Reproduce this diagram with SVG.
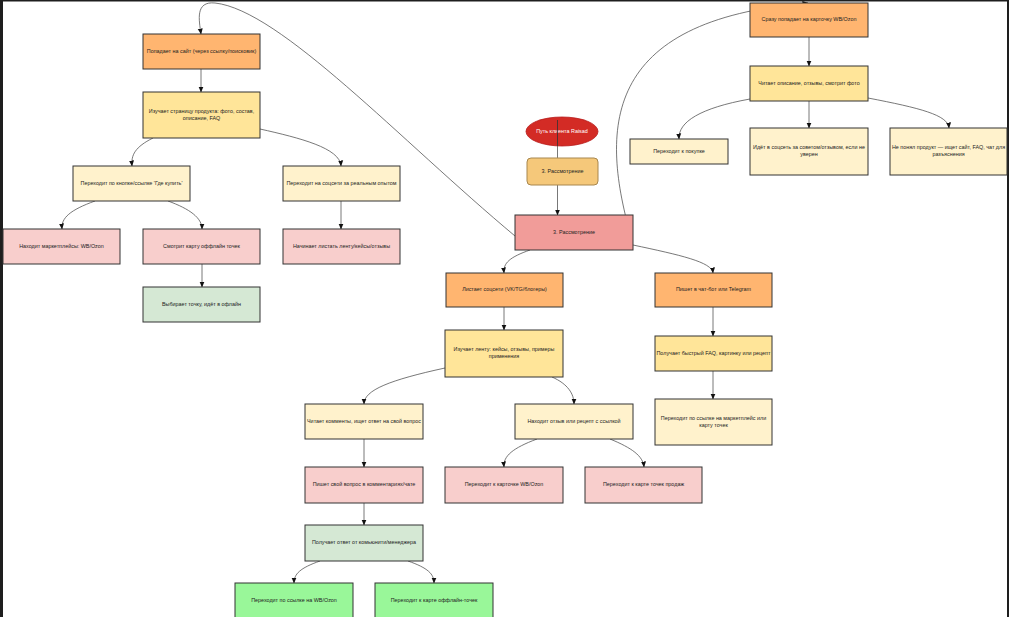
<svg xmlns="http://www.w3.org/2000/svg" width="1009" height="617" viewBox="0 0 1009 617">
<style>
  .n rect { stroke:#333; stroke-width:1; }
  .n text { font-family:"Liberation Sans", Arial, sans-serif; font-size:5.4px; fill:#222; text-anchor:middle; dominant-baseline:middle; }
  .or { fill:#FFB570; }
  .ye { fill:#FFE599; }
  .lt { fill:#FFF2CC; }
  .pk { fill:#F8CECC; }
  .gr { fill:#D5E8D4; }
  .bg { fill:#99F799; }
  .rd { fill:#F19C99; }
  .e path, .e line { fill:none; stroke:#555; stroke-width:0.8; }
  .e .a { marker-end:url(#arr); }
</style>
<defs>
  <marker id="arr" viewBox="0 0 6 6" refX="5.5" refY="3" markerWidth="6" markerHeight="6" markerUnits="userSpaceOnUse" orient="auto">
    <path d="M0,0.5 L6,3 L0,5.5 Z" fill="#111"/>
  </marker>
</defs>
<rect x="0" y="0" width="1009" height="617" fill="#fff"/>
<rect x="0" y="0" width="3" height="617" fill="#1e1e1e"/>
<rect x="0" y="0" width="1009" height="1.5" fill="#1e1e1e"/>
<rect x="1007" y="0" width="2" height="617" fill="#1e1e1e"/>

<g id="connectors" class="e">
  <path class="a" d="M515 236 C400 140, 280 10, 215 3 C195 1, 199 20, 201 34"/>
  <path class="a" d="M632 240 C600 130, 600 20, 808 3"/>
  <line class="a" x1="201" y1="69" x2="201" y2="92"/>
  <path class="a" d="M153 138 C135 147, 131 155, 132 166"/>
  <path class="a" d="M260 129 C300 138, 340 148, 341 166"/>
  <path class="a" d="M95 201 C70 210, 61 218, 62 229"/>
  <path class="a" d="M168 201 C190 209, 202 218, 202 229"/>
  <line class="a" x1="341" y1="201" x2="341" y2="229"/>
  <line class="a" x1="202" y1="264" x2="202" y2="287"/>
  <line x1="557.5" y1="120" x2="557.5" y2="158"/>
  <line class="a" x1="557.5" y1="185" x2="557.5" y2="215"/>
  <path class="a" d="M530 250 C510 257, 503 263, 504 273"/>
  <path class="a" d="M633 245 C680 255, 712 262, 713 273"/>
  <line class="a" x1="504" y1="307" x2="504" y2="330"/>
  <path class="a" d="M445 368 C390 380, 364 390, 364 404"/>
  <path class="a" d="M552 377 C568 384, 574 394, 574 404"/>
  <line class="a" x1="364" y1="439" x2="364" y2="467"/>
  <path class="a" d="M537 439 C513 448, 503 456, 504 467"/>
  <path class="a" d="M610 439 C632 448, 643 456, 644 467"/>
  <line class="a" x1="364" y1="503" x2="364" y2="525"/>
  <path class="a" d="M320 561 C300 568, 294 574, 294 583"/>
  <path class="a" d="M408 561 C428 568, 434 574, 434 583"/>
  <line class="a" x1="713" y1="307" x2="713" y2="336"/>
  <line class="a" x1="713" y1="371" x2="713" y2="399"/>
  <line class="a" x1="809" y1="37" x2="809" y2="66"/>
  <path class="a" d="M750 99 C700 108, 678 122, 679 139"/>
  <line class="a" x1="809" y1="101" x2="809" y2="128"/>
  <path class="a" d="M868 98 C920 108, 948 115, 949 128"/>
</g>

<g id="start">
  <ellipse cx="562" cy="131.5" rx="36" ry="14.5" fill="#D32B25" stroke="#B71C1C" stroke-width="0.8"/>
  <text x="562" y="132" font-family="Liberation Sans, Arial, sans-serif" font-size="5.4" fill="#fff" text-anchor="middle" dominant-baseline="middle">Путь клиента Raisad</text>
</g>
<line x1="557.5" y1="120" x2="557.5" y2="146" stroke="#333" stroke-width="0.8"/>
<g id="stage" class="n">
  <rect x="527" y="158" width="71" height="27" rx="4" fill="#F5C87A" style="stroke:#A8874E"/>
  <text x="562.5" y="171.5">3. Рассмотрение</text>
</g>
<g id="consider" class="n">
  <rect class="rd" x="515" y="215" width="118" height="35"/>
  <text x="574" y="232.5">3. Рассмотрение</text>
</g>

<g id="site" class="n"><rect class="or" x="143" y="34" width="117" height="35"/><text x="201.5" y="51.5">Попадает на сайт (через ссылку/поисковик)</text></g>
<g id="study-page" class="n"><rect class="ye" x="143" y="92" width="117" height="46"/><text x="201.5" y="112">Изучает страницу продукта: фото, состав,</text><text x="201.5" y="118.5">описание, FAQ</text></g>
<g id="where-buy" class="n"><rect class="lt" x="73" y="166" width="117" height="35"/><text x="131.5" y="183.5">Переходит по кнопке/ссылке 'Где купить'</text></g>
<g id="to-social" class="n"><rect class="lt" x="283" y="166" width="117" height="35"/><text x="341.5" y="183.5">Переходит на соцсети за реальным опытом</text></g>
<g id="marketplaces" class="n"><rect class="pk" x="3" y="229" width="117" height="35"/><text x="61.5" y="246.5">Находит маркетплейсы: WB/Ozon</text></g>
<g id="offline-map" class="n"><rect class="pk" x="143" y="229" width="117" height="35"/><text x="201.5" y="246.5">Смотрит карту оффлайн точек</text></g>
<g id="scroll-feed" class="n"><rect class="pk" x="283" y="229" width="117" height="35"/><text x="341.5" y="246.5">Начинает листать ленту/кейсы/отзывы</text></g>
<g id="choose-point" class="n"><rect class="gr" x="143" y="287" width="117" height="35"/><text x="201.5" y="304.5">Выбирает точку, идёт в офлайн</text></g>

<g id="social" class="n"><rect class="or" x="446" y="273" width="117" height="34"/><text x="504.5" y="290">Листает соцсети (VK/TG/блогеры)</text></g>
<g id="chatbot" class="n"><rect class="or" x="655" y="273" width="117" height="34"/><text x="713.5" y="290">Пишет в чат-бот или Telegram</text></g>
<g id="study-feed" class="n"><rect class="ye" x="445" y="330" width="118" height="47"/><text x="504" y="350">Изучает ленту: кейсы, отзывы, примеры</text><text x="504" y="356.5">применения</text></g>
<g id="read-comments" class="n"><rect class="lt" x="305" y="404" width="118" height="35"/><text x="364" y="421.5">Читает комменты, ищет ответ на свой вопрос</text></g>
<g id="find-review" class="n"><rect class="lt" x="515" y="404" width="118" height="35"/><text x="574" y="421.5">Находит отзыв или рецепт с ссылкой</text></g>
<g id="ask-question" class="n"><rect class="pk" x="305" y="467" width="118" height="36"/><text x="364" y="485">Пишет свой вопрос в комментариях/чате</text></g>
<g id="to-card" class="n"><rect class="pk" x="445" y="467" width="118" height="36"/><text x="504" y="485">Переходит к карточке WB/Ozon</text></g>
<g id="to-sales-map" class="n"><rect class="pk" x="585" y="467" width="117" height="36"/><text x="643.5" y="485">Переходит к карте точек продаж</text></g>
<g id="get-answer" class="n"><rect class="gr" x="305" y="525" width="118" height="36"/><text x="364" y="543">Получает ответ от комьюнити/менеджера</text></g>
<g id="link-wb" class="n"><rect class="bg" x="235" y="583" width="118" height="40"/><text x="294" y="601">Переходит по ссылке на WB/Ozon</text></g>
<g id="offline-points" class="n"><rect class="bg" x="375" y="583" width="118" height="40"/><text x="434" y="601">Переходит к карте оффлайн-точек</text></g>

<g id="fast-faq" class="n"><rect class="ye" x="655" y="336" width="117" height="35"/><text x="713.5" y="353.5">Получает быстрый FAQ, картинку или рецепт</text></g>
<g id="link-mp" class="n"><rect class="lt" x="655" y="399" width="117" height="46"/><text x="713.5" y="419">Переходит по ссылке на маркетплейс или</text><text x="713.5" y="425.5">карту точек</text></g>

<g id="direct-card" class="n"><rect class="or" x="750" y="3" width="118" height="34"/><text x="809" y="20">Сразу попадает на карточку WB/Ozon</text></g>
<g id="read-desc" class="n"><rect class="ye" x="750" y="66" width="118" height="35"/><text x="809" y="83.5">Читает описание, отзывы, смотрит фото</text></g>
<g id="buy" class="n"><rect class="lt" x="630" y="139" width="98" height="25"/><text x="679" y="151.5">Переходит к покупке</text></g>
<g id="ask-social" class="n"><rect class="lt" x="750" y="128" width="118" height="47"/><text x="809" y="148">Идёт в соцсеть за советом/отзывом, если не</text><text x="809" y="154.5">уверен</text></g>
<g id="not-understood" class="n"><rect class="lt" x="890" y="128" width="117" height="47"/><text x="948.5" y="148">Не понял продукт — ищет сайт, FAQ, чат для</text><text x="948.5" y="154.5">разъяснения</text></g>
</svg>
